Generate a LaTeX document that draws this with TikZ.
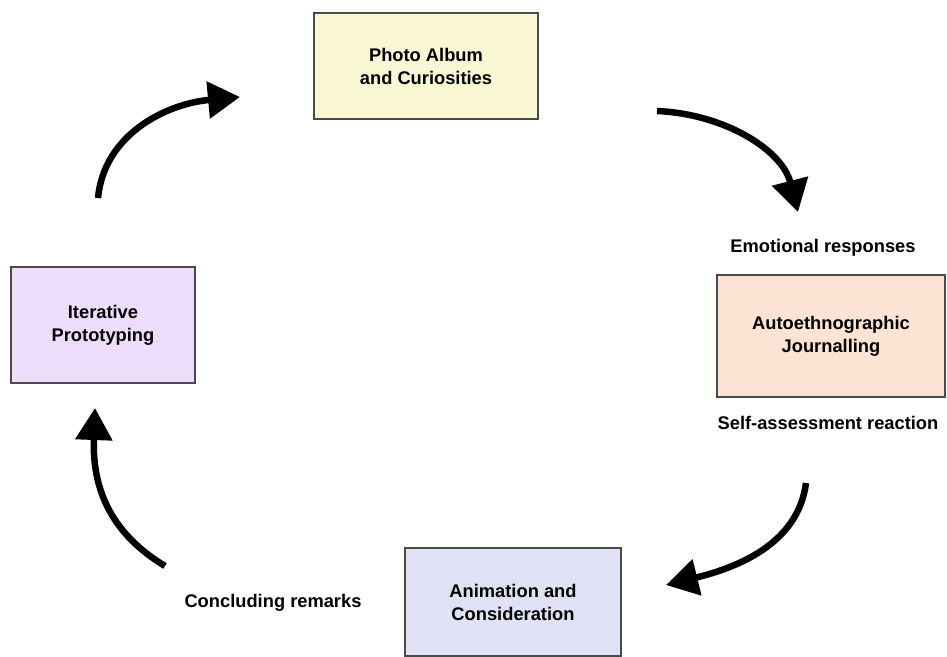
\documentclass[tikz,border=0pt]{standalone}
\usepackage{fontspec}
\setmainfont{Liberation Sans}
\usetikzlibrary{arrows.meta}

\definecolor{albumfill}{HTML}{FAF8D4}
\definecolor{journalfill}{HTML}{FDE3D3}
\definecolor{protofill}{HTML}{EDDCFA}
\definecolor{animfill}{HTML}{E1E1F6}
\definecolor{boxline}{HTML}{4A4A4A}

\tikzset{
    stage/.style={draw=boxline, line width=1.2pt, align=center,
        font=\fontsize{18.3}{23}\selectfont\bfseries},
    steplabel/.style={font=\fontsize{18.3}{23}\selectfont\bfseries},
    cyclearrow/.style={line width=6.5pt, -{Triangle[length=32pt,width=36pt]}}
}

\begin{document}
\begin{tikzpicture}[x=1pt, y=-1pt]
            \useasboundingbox (0,0) rectangle (947,656);

            \node[stage, fill=albumfill, minimum width=224pt, minimum height=106pt] (album) at (426,66) {Photo Album\\and Curiosities};
            \node[stage, fill=journalfill, minimum width=228pt, minimum height=122pt] (journal) at (831,336) {Autoethnographic\\Journalling};
            \node[stage, fill=animfill, minimum width=216pt, minimum height=108pt] (anim) at (513,602) {Animation and\\Consideration};
            \node[stage, fill=protofill, minimum width=184pt, minimum height=116pt] (proto) at (103,325) {Iterative\\Prototyping};

            \node[steplabel] (emo) at (823,248) {Emotional responses};
            \node[steplabel] (self) at (828,423) {Self-assessment reaction};
            \node[steplabel] (concl) at (273,603) {Concluding remarks};

            \coordinate (a1) at (98,198);
            \coordinate (b1) at (240,97);
            \coordinate (a2) at (657,111);
            \coordinate (b2) at (798,212);
            \coordinate (a3) at (806,483);
            \coordinate (b3) at (666,585);
            \coordinate (a4) at (165,566);
            \coordinate (b4) at (95,408);

            \draw[cyclearrow] (a1) .. controls (104,135) and (165,104) .. (b1);
            \draw[cyclearrow] (a2) .. controls (725,114) and (782,150) .. (b2);
            \draw[cyclearrow] (a3) .. controls (798,545) and (735,568) .. (b3);
            \draw[cyclearrow] (a4) .. controls (112,534) and (92,490) .. (b4);
        \end{tikzpicture}
\end{document}
